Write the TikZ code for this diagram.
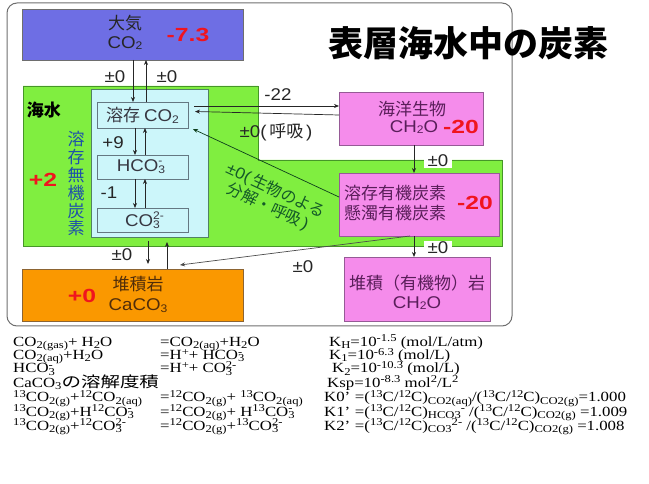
\documentclass[tikz,border=0pt]{standalone}
\usepackage{fontspec}
\setmainfont{Liberation Serif}
\newfontfamily\jp{Noto Sans CJK JP}
\newfontfamily\las[FakeStretch=1.1]{Liberation Sans}
\newfontfamily\numf[FakeStretch=1.3]{Liberation Sans}
\newfontfamily\eqf[FakeStretch=1.2]{Liberation Serif}
\newfontfamily\eqjp[FakeStretch=1.3]{Noto Sans CJK JP}
\usetikzlibrary{arrows.meta}
\definecolor{atmc}{RGB}{110,110,228}
\definecolor{greenc}{RGB}{128,238,64}
\definecolor{greenl}{RGB}{70,150,40}
\definecolor{lbc}{RGB}{204,246,250}
\definecolor{lbl}{RGB}{80,130,100}
\definecolor{innerl}{RGB}{100,120,130}
\definecolor{pinkc}{RGB}{245,140,235}
\definecolor{pinkl}{RGB}{150,90,150}
\definecolor{orc}{RGB}{250,152,0}
\definecolor{orl}{RGB}{140,100,50}
\definecolor{redc}{RGB}{240,20,30}
\definecolor{bluet}{RGB}{30,80,170}
\definecolor{purplet}{RGB}{90,30,90}
\definecolor{brownt}{RGB}{80,45,10}
\definecolor{greent}{RGB}{20,90,40}
\definecolor{frc}{RGB}{110,110,110}
\definecolor{txtd}{RGB}{55,55,65}
\newcommand\dsub[1]{\raisebox{-0.2ex}{\fontsize{11}{11}\selectfont #1}}
\newcommand\dsup[1]{\raisebox{0.8ex}{\fontsize{11}{11}\selectfont #1}}
\newcommand\dn[1]{\raisebox{-0.35ex}{\fontsize{10.5}{10.5}\selectfont #1}}
\newcommand\up[1]{\raisebox{0.7ex}{\fontsize{10.5}{10.5}\selectfont #1}}
\newcommand\ud[2]{\makebox[0pt][l]{\up{#2}}\dn{#1}}
\newcommand\lud[2]{\makebox[0pt][l]{\dsup{#2}}\dsub{#1}}
\begin{document}
\begin{tikzpicture}[x=1pt,y=-1pt,
  bx/.style={draw, line width=0.8pt, inner sep=0pt, outer sep=0pt},
  arr/.style={-{Stealth[length=5pt,width=4pt]}, line width=0.7pt, draw=black!85},
  lab/.style={font=\las\fontsize{17}{17}\selectfont, text=black!85, inner sep=1pt},
  jt/.style={font=\jp\fontsize{17}{20}\selectfont, inner sep=0pt},
  num/.style={font=\numf\bfseries\fontsize{19}{19}\selectfont, text=redc, inner sep=0pt},
  eq/.style={font=\eqf\fontsize{14}{14}\selectfont, anchor=base west, inner sep=0pt}]
\useasboundingbox (0,0) rectangle (649,484);
% frame
\draw[frc, line width=1pt, rounded corners=10pt] (7,3) rectangle (512,326);
% title
\node[font=\jp\bfseries\fontsize{35}{35}\selectfont] (title) at (468,43) {表層海水中の炭素};
% sea water region
\draw[greenl, fill=greenc, line width=0.8pt] (23,86) -- (258,86) -- (258,160) -- (502,160) -- (502,246) -- (23,246) -- cycle;
\node[bx, draw=lbl, fill=lbc, minimum width=117pt, minimum height=148pt] (lb) at (149.5,163) {};
% boxes
\node[bx, draw=frc, fill=atmc, minimum width=221pt, minimum height=51pt] (atm) at (132.5,34.5) {};
\node[bx, draw=innerl, fill=lbc, minimum width=91pt, minimum height=26pt] (dco2) at (142.5,115) {};
\node[bx, draw=innerl, fill=lbc, minimum width=91pt, minimum height=24pt] (hco3) at (142.5,167) {};
\node[bx, draw=innerl, fill=lbc, minimum width=91pt, minimum height=24pt] (co3) at (142.5,220) {};
\node[bx, draw=pinkl, fill=pinkc, minimum width=144pt, minimum height=53pt] (bio) at (411,118.5) {};
\node[bx, draw=pinkl, fill=pinkc, minimum width=160pt, minimum height=63pt] (doc) at (419,204.5) {};
\node[bx, draw=orl, fill=orc, minimum width=221pt, minimum height=52pt] (sedc) at (132.5,295) {};
\node[bx, draw=pinkl, fill=pinkc, minimum width=146pt, minimum height=64pt] (sedo) at (417,289) {};
% texts
\node[jt, text=black!85] (t1) at (125,23) {大気};
\node[jt, font=\las\fontsize{17}{17}\selectfont, text=black!85] (t2) at (125,43) {CO\dsub{2}};
\node[num] (n1) at (188,35) {-7.3};
\node[jt, font=\jp\bfseries\fontsize{17}{17}\selectfont] (t3) at (44,110) {海水};
\node[jt, text=bluet, align=center, font=\jp\fontsize{17}{17.8}\selectfont] (t4) at (76,184) {溶\\存\\無\\機\\炭\\素};
\node[num] (n2) at (43,180) {+2};
\node[jt, text=txtd] (t5) at (142.5,115) {溶存 {\las CO\dsub{2}}};
\node[jt, text=txtd, font=\las\fontsize{17}{17}\selectfont] (t6) at (142.5,167) {HCO\lud{3}{-}\,};
\node[jt, text=txtd, font=\las\fontsize{17}{17}\selectfont] (t7) at (142.5,220) {CO\lud{3}{2-}\hspace{8pt}};
\node[jt, text=purplet] (t8) at (412,109) {海洋生物};
\node[jt, text=purplet, font=\las\fontsize{17}{17}\selectfont] (t9) at (414,127) {CH\dsub{2}O};
\node[num] (n3) at (461,127) {-20};
\node[jt, text=purplet, align=left] (t10) at (395,203) {溶存有機炭素\\懸濁有機炭素};
\node[num] (n4) at (475,203) {-20};
\node[jt, text=brownt] (t11) at (138,284) {堆積岩};
\node[jt, text=brownt, font=\las\fontsize{17}{17}\selectfont] (t12) at (138,306) {CaCO\dsub{3}};
\node[num] (n5) at (82,296) {+0};
\node[jt, text=purplet] (t13) at (417,283) {堆積（有機物）岩};
\node[jt, text=purplet, font=\las\fontsize{17}{17}\selectfont] (t14) at (417,303) {CH\dsub{2}O};
% arrows
\draw[arr] ([xshift=0.5pt]atm.south) -- ([xshift=-9.5pt]dco2.north);
\draw[arr] ([xshift=3.5pt]dco2.north) -- ([xshift=13.5pt]atm.south);
\draw[arr] ([xshift=-7.5pt]dco2.south) -- ([xshift=-7.5pt]hco3.north);
\draw[arr] ([xshift=2.5pt]hco3.north) -- ([xshift=2.5pt]dco2.south);
\draw[arr] ([xshift=-7.5pt]hco3.south) -- ([xshift=-7.5pt]co3.north);
\draw[arr] ([xshift=2.5pt]co3.north) -- ([xshift=2.5pt]hco3.south);
\draw[arr, shorten <=4pt, shorten >=5pt] ([xshift=-1.5pt]lb.south) -- ([xshift=15.5pt]sedc.north);
\draw[arr, shorten >=5pt] ([xshift=34.5pt]sedc.north) -- ([xshift=17.5pt]lb.south);
\draw[arr] ([xshift=6pt,yshift=9pt]dco2.east) -- ([yshift=12.5pt]bio.west);
\draw[arr] ([yshift=3.5pt]bio.west) -- ([xshift=7pt,yshift=3.5pt]dco2.east);
\draw[arr, draw=greent!70!black] ([yshift=7.5pt]doc.west) -- ([xshift=5pt,yshift=-1pt]dco2.south east);
\draw[arr, draw=black!70] ([xshift=-9pt]doc.south) -- ([xshift=47.5pt,yshift=4pt]sedc.north);
\draw[arr] ([xshift=3pt]bio.south) -- ([xshift=-5pt]doc.north);
\draw[arr] ([xshift=-5pt]doc.south) -- ([xshift=-3pt]sedo.north);
% arrow labels
\node[lab] (l1) at (115,77) {±0};
\node[lab] (l2) at (167,77) {±0};
\node[lab] (l3) at (113,143) {+9};
\node[lab] (l4) at (109,193) {-1};
\node[lab] (l5) at (122,255) {±0};
\node[lab] (l6) at (278,95) {-22};
\node[lab] (l7) at (276,132) {±0(\,{\jp 呼吸}\,)};
\node[lab, fill=white, inner xsep=4pt] (l8) at (438,161) {±0};
\node[lab, fill=white, inner xsep=4pt] (l9) at (438,248) {±0};
\node[lab] (l10) at (303,267) {±0};
\node[jt, text=greent, rotate=-25, align=left, font=\jp\fontsize{16}{18}\selectfont] (l11) at (272,199) {{\las ±0(}\,生物のよる\\\hspace*{9pt}分解・呼吸\,{\las )}};
% equations
\node[eq] (e11) at (13,346) {CO\dn{2(gas)}+ H\dn{2}O};
\node[eq] (e12) at (160,346) {=CO\dn{2(aq)}+H\dn{2}O};
\node[eq] (e13) at (329,346) {K\dn{H}=10\up{-1.5} (mol/L/atm)};
\node[eq] (e21) at (13,359.5) {CO\dn{2(aq)}+H\dn{2}O};
\node[eq] (e22) at (160,359.5) {=H\up{+}+ HCO\ud{3}{-}};
\node[eq] (e23) at (329,359.5) {K\dn{1}=10\up{-6.3} (mol/L)};
\node[eq] (e31) at (13,373) {HCO\ud{3}{-}};
\node[eq] (e32) at (160,373) {=H\up{+}+ CO\ud{3}{2-}};
\node[eq] (e33) at (332,373) {K\dn{2}=10\up{-10.3} (mol/L)};
\node[eq] (e41) at (13,387) {CaCO\dn{3}{\eqjp\fontsize{15}{15}\selectfont の溶解度積}};
\node[eq] (e43) at (327,387) {Ksp=10\up{-8.3} mol\up{2}/L\up{2}};
\node[eq] (e51) at (13,402) {\up{13}CO\dn{2(g)}+\up{12}CO\dn{2(aq)}};
\node[eq] (e52) at (160,402) {=\up{12}CO\dn{2(g)}+ \up{13}CO\dn{2(aq)}};
\node[eq] (e53) at (324,402) {K0’\,\,=(\up{13}C/\up{12}C)\dn{CO2(aq)}/(\up{13}C/\up{12}C)\dn{CO2(g)}=1.000};
\node[eq] (e61) at (13,416) {\up{13}CO\dn{2(g)}+H\up{12}CO\ud{3}{-}};
\node[eq] (e62) at (160,416) {=\up{12}CO\dn{2(g)}+ H\up{13}CO\ud{3}{-}};
\node[eq] (e63) at (324,416) {K1’\,\,=(\up{13}C/\up{12}C)\dn{HCO3}\up{-} /(\up{13}C/\up{12}C)\dn{CO2(g)} =1.009};
\node[eq] (e71) at (13,430) {\up{13}CO\dn{2(g)}+\up{12}CO\ud{3}{2-}};
\node[eq] (e72) at (160,430) {=\up{12}CO\dn{2(g)}+\up{13}CO\ud{3}{2-}};
\node[eq] (e73) at (324,430) {K2’\,\,=(\up{13}C/\up{12}C)\dn{CO3}\up{2-} /(\up{13}C/\up{12}C)\dn{CO2(g)} =1.008};
\end{tikzpicture}
\end{document}
